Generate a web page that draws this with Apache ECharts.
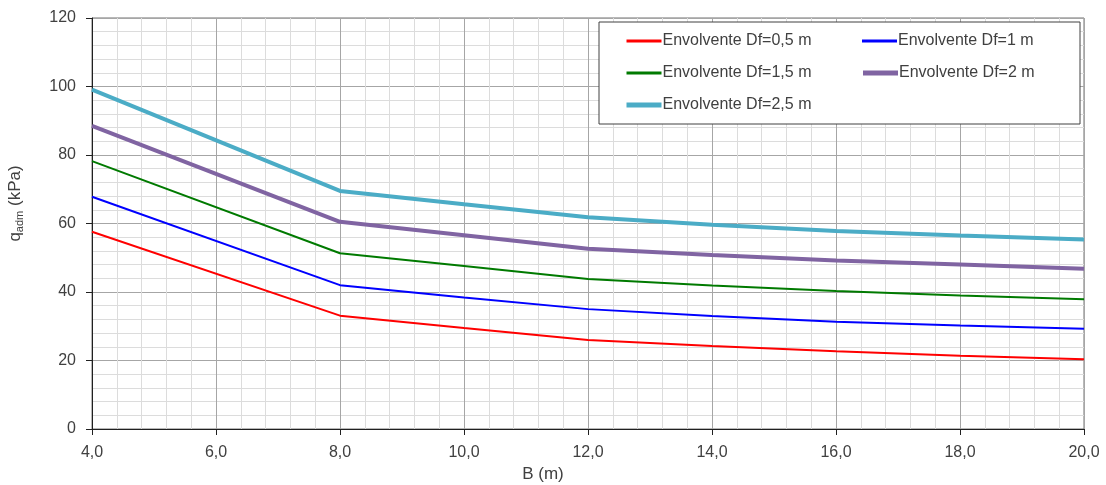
<!DOCTYPE html>
<html>
<head>
<meta charset="utf-8">
<script src="https://cdn.jsdelivr.net/npm/echarts@6/dist/echarts.min.js"></script>
<style>
  html, body { margin: 0; padding: 0; background: #fff; }
  #chart { width: 1106px; height: 485px; }
</style>
</head>
<body>
<div id="chart"></div>
<script>
// Footing width B (m)
const B = [4, 8, 10, 12, 14, 16, 18, 20];

// Allowable bearing pressure envelopes q_adm (kPa) for each embedment depth Df
const qDf05 = [57.6, 33.1, 29.5, 26.0, 24.2, 22.7, 21.4, 20.4];
const qDf10 = [67.8, 42.0, 38.4, 35.0, 33.0, 31.3, 30.2, 29.3];
const qDf15 = [78.2, 51.3, 47.6, 43.8, 41.9, 40.3, 39.0, 37.9];
const qDf20 = [88.5, 60.5, 56.6, 52.6, 50.8, 49.2, 48.0, 46.8];
const qDf25 = [99.1, 69.5, 65.6, 61.8, 59.6, 57.8, 56.5, 55.3];

const seriesNames = [
  'Envolvente Df=0,5 m',
  'Envolvente Df=1 m',
  'Envolvente Df=1,5 m',
  'Envolvente Df=2 m',
  'Envolvente Df=2,5 m'
];
const seriesData = [qDf05, qDf10, qDf15, qDf20, qDf25];
const seriesColors = ['#FF0000', '#0000FF', '#007A00', '#8064A2', '#4BACC6'];
const seriesWidths = [2, 2, 2, 4, 4];

const FONT = '"Liberation Sans", Arial, sans-serif';
const TEXT = '#404040';

const fmtComma = v => v.toFixed(1).replace('.', ',');

const chart = echarts.init(document.getElementById('chart'), null, { renderer: 'canvas' });

chart.setOption({
  animation: false,
  backgroundColor: '#ffffff',
  textStyle: { fontFamily: FONT },
  grid: {
    left: 92, right: 22, top: 18, bottom: 56,
    containLabel: false,
    outerBoundsMode: 'none',
    show: true,
    borderColor: '#707070',
    borderWidth: 1
  },
  legend: {
    // two-column layout: left column entries get a wider text slot
    data: seriesNames.map((name, i) => ({
      name: name,
      lineStyle: { width: seriesWidths[i] + 1 },
      textStyle: { width: i % 2 === 0 ? 182 : 181 }
    })),
    left: 599,
    top: 22,
    width: 475,
    orient: 'horizontal',
    padding: [11, 0, 11, 25],
    itemWidth: 35,
    itemHeight: 14,
    itemGap: 16,
    backgroundColor: '#ffffff',
    borderColor: '#404040',
    borderWidth: 1,
    borderRadius: 0,
    itemStyle: { opacity: 0 },
    textStyle: {
      fontFamily: FONT,
      fontSize: 16,
      color: TEXT,
      lineHeight: 14,
      padding: [0, 0, 0, -4]
    }
  },
  xAxis: {
    type: 'value',
    min: 4,
    max: 20,
    interval: 2,
    name: 'B (m)',
    nameLocation: 'middle',
    nameGap: 37,
    nameTextStyle: { fontFamily: FONT, fontSize: 17, color: TEXT, padding: [0, 90, 0, 0] },
    axisLine: { show: true, onZero: false, lineStyle: { color: '#202020', width: 1 } },
    axisTick: { show: true, length: 6, lineStyle: { color: '#202020' } },
    axisLabel: { formatter: fmtComma, fontFamily: FONT, fontSize: 16, color: TEXT, margin: 16 },
    splitLine: { show: true, lineStyle: { color: '#A6A6A6', width: 1 } },
    minorTick: { show: false, splitNumber: 5 },
    minorSplitLine: { show: true, lineStyle: { color: '#DCDCDC', width: 1 } }
  },
  yAxis: {
    type: 'value',
    min: 0,
    max: 120,
    interval: 20,
    name: '{q|q}{sub|adm}{q| (kPa)}',
    nameLocation: 'middle',
    nameGap: 67,
    nameRotate: 90,
    nameTextStyle: {
      padding: [0, 0, 0, 40],
      rich: {
        q: { fontFamily: FONT, fontSize: 17, color: TEXT },
        sub: { fontFamily: FONT, fontSize: 11, color: TEXT, verticalAlign: 'bottom', padding: [8, 0, 0, 0] }
      }
    },
    axisLine: { show: true, lineStyle: { color: '#202020', width: 1 } },
    axisTick: { show: true, length: 6, lineStyle: { color: '#202020' } },
    axisLabel: { fontFamily: FONT, fontSize: 16, color: TEXT, margin: 16 },
    splitLine: { show: true, lineStyle: { color: '#A6A6A6', width: 1 } },
    minorTick: { show: false, splitNumber: 5 },
    minorSplitLine: { show: true, lineStyle: { color: '#DCDCDC', width: 1 } }
  },
  series: seriesNames.map((name, i) => ({
    name: name,
    type: 'line',
    data: B.map((b, j) => [b, seriesData[i][j]]),
    symbol: 'none',
    smooth: false,
    color: seriesColors[i],
    lineStyle: { color: seriesColors[i], width: seriesWidths[i] },
    z: 2 + i
  }))
});
</script>
</body>
</html>
